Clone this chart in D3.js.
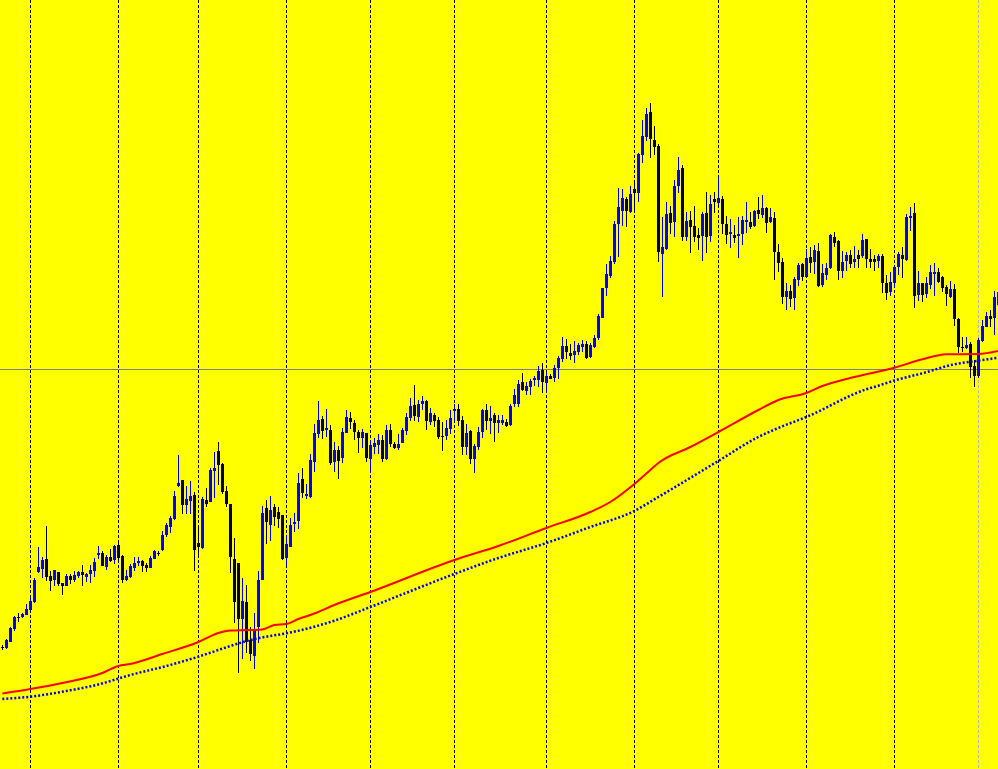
<!DOCTYPE html>
<html>
<head>
<meta charset="utf-8">
<script src="https://cdn.jsdelivr.net/npm/d3@7"></script>
<style>
html,body{margin:0;padding:0;background:#ffff00;overflow:hidden;}
svg{display:block;}
</style>
</head>
<body>
<svg id="chart" width="998" height="769"></svg>
<script>
// ---- data (price units, arbitrary; no axis labels on chart) ----
const openP = [
153,152,158.5,171,183,183,185,190,198,228,
231,241,224,220,228,217,214,224,220,224,
228,223,226,229,245,247,233,243,240,255,
244,220,223,232,237,239,235,232,241,247,
250,265,273,281,314,320,295,299,305,257,
252,300,298,329,349,336,309,296,241,237,
181,198,160,144,173,220,292,275,293,288,
285,242,253,276,279,321,304,303,338,366,
381,370,370,338,350,342,367,382,377,368,
362,367,341,353,355,360,341,370,356,352,
357,369,382,395,383,396,399,378,385,380,
364.5,364,371,389,391,380,353,369,341,353,
368,390,379,385,377.5,377,378,375,396,396,
418,409,413,420,420,430,417,424,422,432,
441,454,447,445,448,453,456,443,453,462,
482,512,524,538,576,589,601,588,611,607,
645,663,688,660,654,546,551,587,578,614,
632,563,580,574,565,564,587,564,601,597,
601,576,566,565,564,566,578,578,574,590,
585,592,578,582,548,538,503,509,502,520,
536,523,543,538,549,515,525,532,563,559,
529,539,545,538,545,544,561,541,541,539,
544,517,508,517,533,545,540,582,587,505,
517,506,515,526,528,523,513,503,511,481,
453,452,456,434,424,459,473,484,482,495];
const highP = [
155,161,173,184,187,187,196,202,222,253,
243,274,229,230,228,217,226,226,229,229,
235,227,235,242,254,249,245,251,255,260,
245,230,236,243,243,240,237,244,250,249,
269,277,284,309,345,320,314,319,308,275,
303,312,332,348,358,337,314,296,262,237,
222,215,173,187,229,294,300,304,296,293,
285,265,282,287,327,332,316,346,376,399,
384,391,375,358,354,372,390,388,380,370,
371,367,360,362,366,365,375,376,358,366,
372,387,402,415,400,404,400,392,387,383,
378,380,390,396,396,384,376,370,356,373,
391,396,394,387,385,385,381,396,411,420,
427,418,421,424,434,437,428,426,435,444,
463,461,456,459,457,460,459,457,465,486,
512,536,544,579,612,611,603,614,618,647,
680,692,697,674,656,583,598,594,620,643,
635,588,589,594,572,588,608,605,608,623,
604,584,581,575,583,584,598,588,590,603,
605,593,592,588,556,542,517,515,523,537,
537,551,553,555,557,536,537,566,568,560,
549,548,550,554,550,566,561,551,545,546,
546,525,528,535,548,553,586,593,597,529,
517,523,535,537,532,524,515,519,516,482,
463,463,458,440,462,480,488,490,509,513];
const lowP = [
150,151,158,169,178,182,185,189,197,227,
222,219,209,214,214,205,214,216,218,222,
214,218,217,223,241,234,230,238,236,237,
217,219,222,229,234,228,228,232,241,244,
249,263,267,280,313,286,286,286,229,242,
251,293,298,302,315,306,293,227,177,127,
141,147,139,131,157,220,256,259,274,272,
240,234,253,268,271,302,301,302,328,362,
361,363,335,328,321,337,367,371,360,347,
352,338,327,346,346,338,340,353,351,350,
357,365,379,379,378,390,370,375,373,361,
349,360,366,379,374,345,345,336,327,350,
362,370,366,358,367,375,373,374,393,393,
409,405,405,414,413,407,407,421,418,421,
438,441,440,437,445,448,441,442,452,460,
482,504,522,536,543,574,573,587,590,598,
637,659,642,645,538,503,550,566,563,607,
559,559,547,558,550,539,547,558,587,595,
566,556,552,557,542,555,567,571,573,581,
582,567,577,520,528,496,490,493,490,514,
519,523,527,526,513,513,520,531,553,520,
522,529,532,532,532,542,532,532,529,532,
507,500,504,512,525,522,539,569,492,499,
498,502,511,504,517,508,494,502,474,447,
448,451,422,413,422,458,473,473,465,492];
const closeP = [
152,160,172,183,182,186,191,199,220,233,
240,223,219,230,216,214,224,220,225,228,
225,226,230,238,247,234,243,239,254,242,
220,224,234,237,239,234,232,242,249,246,
265,275,282,304,317,295,301,304,250,253,
301,296,330,332,335,308,296,243,198,181,
199,158,146,171,220,287,278,290,283,281,
241,256,275,278,317,307,306,340,367,380,
369,372,337,350,339,368,383,378,368,362,
368,342,355,357,360,341,370,356,352,356,
370,383,394,384,396,399,379,387,379,363,
363.5,372,382,391,379,353,367,341,354,368,
390,379,382,377,380.5,380,374,394,405,416,
410,414,419,422,429,418,424,421,432,442,
454,448,444,449,455,456,442,455,462,484,
512,526,539,576,593,602,589,606,607,646,
664,686,661,653,548,553,586,577,614,630,
563,579,573,563,562,586,563,596,598,602,
576,565,568,562,566,580,580,573,589,586,
592,577,583,548,537,503,509,501,521,535,
523,542,537,550,514,527,532,565,557,529,
538,545,536,541,541,560,541,538,538,544,
517,507,518,533,546,541,583,584,504,517,
505,517,528,528,518,512,506,511,481,453,
452,455,433,424,460,474,484,481,503,508];

// moving averages sampled at bar indices
const maRedIdx = [0,7,15,25,29,32,40,49,54,57,62,65,68,71,74,78,83,92,113,124,136,147,152,158,162,164,172,179,189,194,201,205,213,223,230,236,244,249];
const maRedVal = [106.5,111,117,127,134,136,146,158,167,169.5,170,170.5,175,176,181,186.5,195,208,240,254,272,288,298,316,330,337,353,368,390,400,407,414,423,432.3,440.7,445.7,446,449];
const maBlueIdx = [0,7,16,24,32,41,49,57,62,66,71,78,83,92,113,124,136,147,158,164,179,189,194,201,216,219,223,230,238,244,249];
const maBlueVal = [101,103.3,109,115.5,125,134,143.3,154,160,163.3,166.7,173.3,179.3,193,226,242,257,273,289,303,339,363,372,383,410.7,414.3,419.5,426.7,435.7,439.3,442.3];

// period separators (bar indices) and chart-shift marker, price line
const separatorIdx = [7,29,49,71,92,113,136,158,179,201,223];
const shiftIdx = [244];
const priceLine = [430.5];

// ---- drawing ----
const W = 998, H = 769;
const svg = d3.select("#chart");
const n = openP.length;
const x = d3.scaleLinear().domain([0, 249]).range([2.33, 998.33]);
const y = d3.scaleLinear().domain([31, 800]).range([H, 0]);

svg.append("rect").attr("width", W).attr("height", H).attr("fill", "#ffff00");

const grid = svg.append("g").attr("shape-rendering", "crispEdges");
grid.selectAll("line.sep").data(separatorIdx).join("line")
  .attr("class","sep")
  .attr("x1", d => Math.round(x(d)) + 0.5).attr("x2", d => Math.round(x(d)) + 0.5)
  .attr("y1", 0).attr("y2", H)
  .attr("stroke", "#000").attr("stroke-width", 1).attr("stroke-dasharray", "3,2");
grid.selectAll("line.shift").data(shiftIdx).join("line")
  .attr("class","shift")
  .attr("x1", d => Math.round(x(d)) + 0.5).attr("x2", d => Math.round(x(d)) + 0.5)
  .attr("y1", 0).attr("y2", H)
  .attr("stroke", "#b4b4c8").attr("stroke-width", 1).attr("stroke-dasharray", "3,2");
grid.selectAll("line.pl").data(priceLine).join("line")
  .attr("class","pl")
  .attr("x1", 0).attr("x2", W)
  .attr("y1", d => Math.floor(y(d)) + 0.5).attr("y2", d => Math.floor(y(d)) + 0.5)
  .attr("stroke", "#808080").attr("stroke-width", 1);

const bars = d3.range(n).map(i => ({i, o: openP[i], h: highP[i], l: lowP[i], c: closeP[i]}));
const cg = svg.append("g").attr("shape-rendering", "crispEdges");
const col = d => d.c > d.o ? "#0000ff" : "#000000";
cg.selectAll("rect.wick").data(bars).join("rect")
  .attr("class","wick")
  .attr("x", d => Math.round(x(d.i)))
  .attr("y", d => Math.round(y(d.h)))
  .attr("width", 1)
  .attr("height", d => Math.max(1, Math.round(y(d.l)) - Math.round(y(d.h))))
  .attr("fill", col);
cg.selectAll("rect.body").data(bars).join("rect")
  .attr("class","body")
  .attr("x", d => Math.round(x(d.i)) - 1)
  .attr("y", d => Math.round(y(Math.max(d.o, d.c))))
  .attr("width", 3)
  .attr("height", d => Math.max(1, Math.round(y(Math.min(d.o, d.c))) - Math.round(y(Math.max(d.o, d.c)))))
  .attr("fill", col);

const line = d3.line().curve(d3.curveMonotoneX).x(d => x(d[0])).y(d => y(d[1]));
svg.append("path")
  .datum(maRedIdx.map((k, j) => [k, maRedVal[j]]))
  .attr("d", line).attr("fill", "none")
  .attr("stroke", "#ff0000").attr("stroke-width", 2);
svg.append("path")
  .datum(maBlueIdx.map((k, j) => [k, maBlueVal[j]]))
  .attr("d", line).attr("fill", "none")
  .attr("stroke", "#0000ff").attr("stroke-width", 2.5).attr("stroke-dasharray", "2,2");
</script>
</body>
</html>
